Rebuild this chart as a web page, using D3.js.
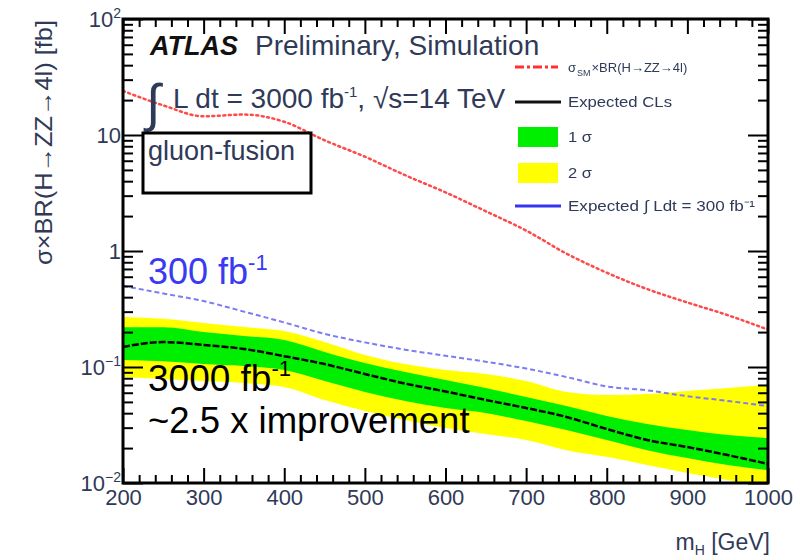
<!DOCTYPE html>
<html lang="en">
<head>
<meta charset="UTF-8">
<title>ATLAS H-&gt;ZZ-&gt;4l gluon-fusion projection</title>
<script src="https://cdnjs.cloudflare.com/ajax/libs/d3/7.8.5/d3.min.js"></script>
<style>
    body { margin: 0; background: #fff; }
    svg { display: block; font-family: "Liberation Sans", Arial, sans-serif; }
</style>
</head>
<body>
<div id="chart"></div>
<script>
// Higgs mass points (GeV) and values (fb)
const massGeV      = [200, 250, 300, 350, 400, 450, 500, 550, 600, 650, 700, 750, 800, 850, 900, 950, 1000];
const xsecBR       = [24, 18, 14.5, 15, 13, 9.0, 6.5, 4.5, 3.2, 2.2, 1.5, 0.95, 0.65, 0.47, 0.36, 0.28, 0.21];
const expected3000 = [0.149, 0.164, 0.155, 0.143, 0.124, 0.106, 0.087, 0.072, 0.0615, 0.052, 0.0443, 0.0371, 0.0292, 0.0235, 0.0204, 0.0174, 0.0146];
const band1Up      = [0.22, 0.22, 0.20, 0.185, 0.171, 0.135, 0.108, 0.0905, 0.0773, 0.0659, 0.0551, 0.0461, 0.0378, 0.0323, 0.0286, 0.0259, 0.0244];
const band1Down    = [0.115, 0.112, 0.106, 0.102, 0.0942, 0.0757, 0.0609, 0.0509, 0.0443, 0.0401, 0.0342, 0.0286, 0.0235, 0.0192, 0.0164, 0.0143, 0.0129];
const band2Up      = [0.27, 0.26, 0.24, 0.221, 0.204, 0.164, 0.127, 0.106, 0.0942, 0.087, 0.0757, 0.0609, 0.0574, 0.0585, 0.0621, 0.0659, 0.07];
const band2Down    = [0.082, 0.079, 0.0757, 0.0728, 0.0673, 0.052, 0.0418, 0.0349, 0.0298, 0.0264, 0.0235, 0.0192, 0.0168, 0.0143, 0.0122, 0.0106, 0.0091];
const expected300  = [0.50, 0.43, 0.37, 0.30, 0.242, 0.193, 0.163, 0.141, 0.125, 0.111, 0.097, 0.082, 0.068, 0.063, 0.056, 0.051, 0.046];

const xMajorTicks = [200, 300, 400, 500, 600, 700, 800, 900, 1000];
const yDecades = [-2, -1, 0, 1, 2];

const legendLabels = ["\u03c3_SM\u00d7BR(H\u2192ZZ\u21924l)", "Expected CLs", "1 \u03c3", "2 \u03c3", "Expected \u222b Ldt = 300 fb\u207b\u00b9"];

const W = 799, H = 557;
const plot = {left: 123, right: 768, top: 19, bottom: 483};
const textCol = "#2f3a58";

const svg = d3.select("#chart").append("svg")
    .attr("width", W)
    .attr("height", H);

const defs = svg.append("defs");
defs.append("clipPath").attr("id", "clip")
    .append("rect")
    .attr("x", plot.left).attr("y", plot.top)
    .attr("width", plot.right - plot.left).attr("height", plot.bottom - plot.top);
defs.append("filter").attr("id", "soft")
    .append("feGaussianBlur").attr("stdDeviation", 0.6);

const x = d3.scaleLinear().domain([200, 1000]).range([plot.left, plot.right]);
const y = d3.scaleLog().domain([0.01, 100]).range([plot.bottom, plot.top]);

const rows = massGeV.map((m, i) => ({
    m: m, xs: xsecBR[i], e3000: expected3000[i], e300: expected300[i],
    u1: band1Up[i], d1: band1Down[i], u2: band2Up[i], d2: band2Down[i]
}));

const g = svg.append("g").attr("clip-path", "url(#clip)");

const area = (lo, hi) => d3.area()
    .x(d => x(d.m)).y0(d => y(d[lo])).y1(d => y(d[hi]))
    .curve(d3.curveMonotoneX);
const line = key => d3.line()
    .x(d => x(d.m)).y(d => y(d[key]))
    .curve(d3.curveMonotoneX);

// bands
g.append("path").datum(rows).attr("fill", "#ffff00").attr("d", area("d2", "u2"));
g.append("path").datum(rows).attr("fill", "#00ee00").attr("d", area("d1", "u1"));

// expected 3000 fb-1
g.append("path").datum(rows)
    .attr("fill", "none").attr("stroke", "#000").attr("stroke-width", 2.5)
    .attr("stroke-dasharray", "7,2")
    .attr("d", line("e3000"));

// expected 300 fb-1
g.append("path").datum(rows)
    .attr("fill", "none").attr("stroke", "#7c7cf4").attr("stroke-width", 2)
    .attr("stroke-dasharray", "5,3")
    .attr("d", line("e300"));

// sigma x BR
g.append("path").datum(rows)
    .attr("fill", "none").attr("stroke", "#ff4a4a").attr("stroke-width", 2.5)
    .attr("stroke-dasharray", "2,3.5").attr("stroke-linecap", "round")
    .attr("d", line("xs"));

// axes ticks (inside the frame, on all four sides)
const xMinor = d3.range(200, 1001, 20).filter(v => v % 100 !== 0);
const yMajor = yDecades.map(e => Math.pow(10, e));
const yMinor = [];
yDecades.slice(0, -1).forEach(e => d3.range(2, 10).forEach(k => yMinor.push(k * Math.pow(10, e))));

function tickGroup(axis, tx, ty) {
    const sel = svg.append("g").attr("transform", `translate(${tx},${ty})`).call(axis);
    sel.select(".domain").remove();
    sel.selectAll("line").attr("stroke", "#000").attr("stroke-width", 2);
    return sel;
}

const xb = tickGroup(d3.axisBottom(x).tickValues(xMajorTicks).tickSize(-15).tickPadding(6).tickFormat(d3.format("d")), 0, plot.bottom);
xb.selectAll("text").attr("font-size", 22).attr("fill", textCol).attr("font-family", "Liberation Sans, Arial, sans-serif");
tickGroup(d3.axisBottom(x).tickValues(xMinor).tickSize(-8).tickFormat(""), 0, plot.bottom);
tickGroup(d3.axisTop(x).tickValues(xMajorTicks).tickSize(-15).tickFormat(""), 0, plot.top);
tickGroup(d3.axisTop(x).tickValues(xMinor).tickSize(-8).tickFormat(""), 0, plot.top);

tickGroup(d3.axisLeft(y).tickValues(yMajor).tickSize(-20).tickFormat(""), plot.left, 0);
tickGroup(d3.axisLeft(y).tickValues(yMinor).tickSize(-10).tickFormat(""), plot.left, 0);
tickGroup(d3.axisRight(y).tickValues(yMajor).tickSize(-20).tickFormat(""), plot.right, 0);
tickGroup(d3.axisRight(y).tickValues(yMinor).tickSize(-10).tickFormat(""), plot.right, 0);

// y tick labels 10^n
yDecades.forEach(e => {
    const t = svg.append("text")
        .attr("x", 121).attr("y", y(Math.pow(10, e)) + 8)
        .attr("text-anchor", "end").attr("font-size", 22).attr("fill", textCol);
    if (e === 0) t.text("1");
    else if (e === 1) t.text("10");
    else {
        t.append("tspan").text("10");
        t.append("tspan").attr("dy", -9).attr("font-size", 14).text(String(e).replace("-", "\u2212"));
    }
});

// frame
svg.append("rect")
    .attr("x", plot.left).attr("y", plot.top)
    .attr("width", plot.right - plot.left).attr("height", plot.bottom - plot.top)
    .attr("fill", "none").attr("stroke", "#000").attr("stroke-width", 3);

// axis titles
svg.append("text")
    .attr("transform", "translate(52,20) rotate(-90)")
    .attr("text-anchor", "end").attr("font-size", 24).attr("fill", textCol)
    .attr("textLength", 245).attr("lengthAdjust", "spacingAndGlyphs")
    .text("\u03c3\u00d7BR(H\u2192ZZ\u21924l) [fb]");

const xt = svg.append("text")
    .attr("x", 770).attr("y", 550).attr("text-anchor", "end")
    .attr("font-size", 23).attr("fill", textCol);
xt.append("tspan").text("m");
xt.append("tspan").attr("dy", 5).attr("font-size", 14).text("H");
xt.append("tspan").attr("dy", -5).text(" [GeV]");

// ATLAS label
svg.append("text").attr("x", 150).attr("y", 55).attr("font-size", 27)
    .attr("font-weight", "bold").attr("font-style", "italic").attr("fill", "#111").text("ATLAS");
svg.append("text").attr("x", 255).attr("y", 55).attr("font-size", 28)
    .attr("fill", textCol).text("Preliminary, Simulation");

svg.append("text").attr("x", 146).attr("y", 121).attr("font-size", 52).attr("fill", textCol).text("\u222b");
const lumi = svg.append("text").attr("x", 173).attr("y", 108).attr("font-size", 28).attr("fill", textCol);
lumi.append("tspan").text("L dt = 3000 fb");
lumi.append("tspan").attr("dy", -11).attr("font-size", 15).text("-1");
lumi.append("tspan").attr("dy", 11).text(", \u221as=14 TeV");

// gluon-fusion box
svg.append("rect").attr("x", 143).attr("y", 133).attr("width", 168).attr("height", 60)
    .attr("fill", "none").attr("stroke", "#000").attr("stroke-width", 3);
svg.append("text").attr("x", 148).attr("y", 160).attr("font-size", 27).attr("fill", textCol).text("gluon-fusion");

// annotations
const a300 = svg.append("text").attr("x", 148).attr("y", 284).attr("font-size", 36).attr("fill", "#3a3af2");
a300.append("tspan").text("300 fb");
a300.append("tspan").attr("dy", -14).attr("font-size", 22).text("-1");

const a3000 = svg.append("text").attr("x", 148).attr("y", 391).attr("font-size", 37).attr("fill", "#000");
a3000.append("tspan").text("3000 fb");
a3000.append("tspan").attr("dy", -15).attr("font-size", 22).text("-1");
svg.append("text").attr("x", 148).attr("y", 433).attr("font-size", 36.5).attr("fill", "#000").text("~2.5 x improvement");

// legend
const leg = svg.append("g");
const legY = [67, 102, 137, 173, 206];
const legWidth = [112, 104, 24, 24, 187];
leg.append("line").attr("x1", 515).attr("x2", 558).attr("y1", legY[0]).attr("y2", legY[0])
    .attr("stroke", "#ff3030").attr("stroke-width", 3).attr("stroke-dasharray", "9,3,3,3");
leg.append("line").attr("x1", 515).attr("x2", 561).attr("y1", legY[1]).attr("y2", legY[1])
    .attr("stroke", "#111").attr("stroke-width", 3);
leg.append("rect").attr("x", 518).attr("y", legY[2] - 10).attr("width", 40).attr("height", 20).attr("fill", "#00ee00");
leg.append("rect").attr("x", 518).attr("y", legY[3] - 10).attr("width", 40).attr("height", 20).attr("fill", "#ffff00");
leg.append("line").attr("x1", 515).attr("x2", 561).attr("y1", legY[4]).attr("y2", legY[4])
    .attr("stroke", "#3535f0").attr("stroke-width", 3);

legendLabels.forEach((lab, i) => {
    const t = leg.append("text").attr("x", 568).attr("y", legY[i] + 5)
        .attr("fill", textCol).attr("filter", "url(#soft)");
    if (i === 0) {
        // sigma with subscript SM, no stretching so the pieces do not collide
        t.attr("font-size", 13);
        t.append("tspan").text("\u03c3");
        t.append("tspan").attr("dx", 1).attr("dy", 4).attr("font-size", 9).text("SM");
        t.append("tspan").attr("dx", 1).attr("dy", -4).text("\u00d7BR(H\u2192ZZ\u21924l)");
    } else {
        t.attr("font-size", 15)
            .attr("textLength", legWidth[i]).attr("lengthAdjust", "spacingAndGlyphs")
            .text(lab);
    }
});
</script>
</body>
</html>
